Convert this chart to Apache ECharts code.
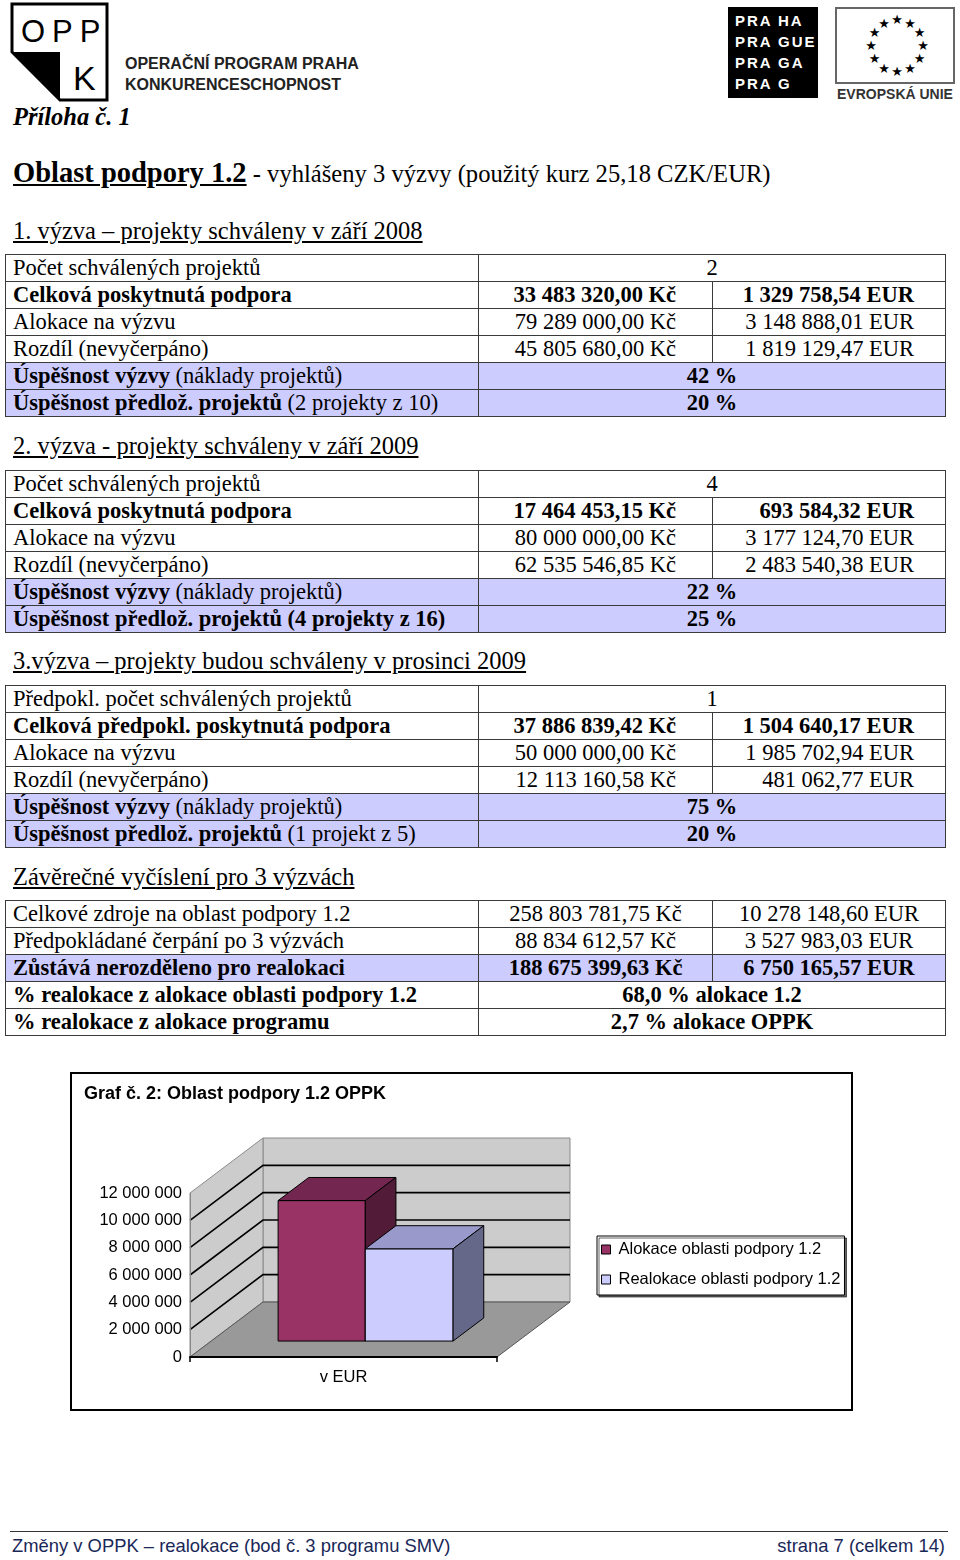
<!DOCTYPE html>
<html lang="cs">
<head>
<meta charset="utf-8">
<title>Oblast podpory 1.2</title>
<script src="https://cdn.jsdelivr.net/npm/echarts@6/dist/echarts.min.js"></script>
<style>
  html, body { margin: 0; padding: 0; background: #fff; }
  body { width: 960px; height: 1560px; position: relative; overflow: hidden; font-family: 'Liberation Serif', serif; color: #000; }
  .abs { position: absolute; white-space: nowrap; }
  .h1 { left: 13px; top: 155px; line-height: 36px; font-size: 24.6px; }
  .h1 b { font-size: 28.5px; text-decoration: underline; }
  .h2 { left: 13px; font-size: 24.5px; line-height: 30px; text-decoration: underline; }
  table.t { position: absolute; left: 5px; width: 940px; border-collapse: collapse; table-layout: fixed; font-size: 22.5px; }
  table.t td { border: 1.5px solid #3a3a3a; height: 26px; padding: 0; line-height: 24px; white-space: nowrap; overflow: hidden; }
  table.t td.l { padding-left: 7px; }
  table.t td.c { text-align: center; }
  table.t td.r1 { text-align: right; padding-right: 36px; }
  table.t td.r2 { text-align: right; padding-right: 31px; }
  table.t tr.b td { font-weight: bold; }
  table.t tr.s td { background: #ccccff; }
  #chart { position: absolute; left: 0; top: 1060px; width: 960px; height: 370px; }
  .foot { font-family: 'Liberation Sans', sans-serif; font-size: 18.4px; color: #1a2858; top: 1535px; line-height: 22px; }
</style>
</head>
<body>
<!-- OPPK logo -->
<svg class="abs" style="left:0;top:0" width="700" height="140">
  <polygon points="12,4 107,4 107,100 60,100 12,52" fill="none" stroke="#000" stroke-width="3"/>
  <polygon points="12,52 60,52 60,100" fill="#000"/>
  <text x="21" y="42" font-family="Liberation Sans" font-size="31" letter-spacing="7">OPP</text>
  <text x="73" y="90" font-family="Liberation Sans" font-size="34">K</text>
  <text x="125" y="69" font-family="Liberation Sans" font-weight="bold" font-size="16" fill="#222">OPERAČNÍ PROGRAM PRAHA</text>
  <text x="125" y="90" font-family="Liberation Sans" font-weight="bold" font-size="16" fill="#222">KONKURENCESCHOPNOST</text>
  <text x="13" y="125" font-family="Liberation Serif" font-weight="bold" font-style="italic" font-size="24.5">Příloha č. 1</text>
</svg>
<!-- Praha logo + EU flag -->
<svg class="abs" style="left:720px;top:0" width="240" height="110">
  <rect x="8" y="7" width="90" height="91" fill="#000"/>
  <g font-family="Liberation Sans" font-weight="bold" font-size="15" fill="#fff" letter-spacing="2">
    <text x="15" y="26">PRA</text><text x="58" y="26">HA</text>
    <text x="15" y="47">PRA</text><text x="58" y="47">GUE</text>
    <text x="15" y="68">PRA</text><text x="58" y="68">GA</text>
    <text x="15" y="89">PRA</text><text x="58" y="89">G</text>
  </g>
  <rect x="116" y="8" width="118" height="75" fill="#fff" stroke="#666" stroke-width="2"/>
  <g id="stars" font-family="DejaVu Sans" font-size="13" fill="#000" text-anchor="middle"></g>
  <text x="175" y="99" font-family="Liberation Sans" font-weight="bold" font-size="14" fill="#333" text-anchor="middle">EVROPSKÁ UNIE</text>
</svg>

<div class="abs h1"><b>Oblast podpory 1.2</b> - vyhlášeny 3 výzvy (použitý kurz 25,18 CZK/EUR)</div>

<div class="abs h2" style="top:216px">1. výzva – projekty schváleny v září 2008</div>
<table class="t" style="top:254px">
  <colgroup><col style="width:473px"><col style="width:234px"><col style="width:233px"></colgroup>
  <tr><td class="l">Počet schválených projektů</td><td class="c" colspan="2">2</td></tr>
  <tr class="b"><td class="l">Celková poskytnutá podpora</td><td class="r1">33 483 320,00 Kč</td><td class="r2">1 329 758,54 EUR</td></tr>
  <tr><td class="l">Alokace na výzvu</td><td class="r1">79 289 000,00 Kč</td><td class="r2">3 148 888,01 EUR</td></tr>
  <tr><td class="l">Rozdíl (nevyčerpáno)</td><td class="r1">45 805 680,00 Kč</td><td class="r2">1 819 129,47 EUR</td></tr>
  <tr class="s"><td class="l"><b>Úspěšnost výzvy</b> (náklady projektů)</td><td class="c" colspan="2"><b>42 %</b></td></tr>
  <tr class="s"><td class="l"><b>Úspěšnost předlož. projektů</b> (2 projekty z 10)</td><td class="c" colspan="2"><b>20 %</b></td></tr>
</table>

<div class="abs h2" style="top:431px">2. výzva - projekty schváleny v září 2009</div>
<table class="t" style="top:470px">
  <colgroup><col style="width:473px"><col style="width:234px"><col style="width:233px"></colgroup>
  <tr><td class="l">Počet schválených projektů</td><td class="c" colspan="2">4</td></tr>
  <tr class="b"><td class="l">Celková poskytnutá podpora</td><td class="r1">17 464 453,15 Kč</td><td class="r2">693 584,32 EUR</td></tr>
  <tr><td class="l">Alokace na výzvu</td><td class="r1">80 000 000,00 Kč</td><td class="r2">3 177 124,70 EUR</td></tr>
  <tr><td class="l">Rozdíl (nevyčerpáno)</td><td class="r1">62 535 546,85 Kč</td><td class="r2">2 483 540,38 EUR</td></tr>
  <tr class="s"><td class="l"><b>Úspěšnost výzvy</b> (náklady projektů)</td><td class="c" colspan="2"><b>22 %</b></td></tr>
  <tr class="s b"><td class="l">Úspěšnost předlož. projektů (4 projekty z 16)</td><td class="c" colspan="2">25 %</td></tr>
</table>

<div class="abs h2" style="top:646px">3.výzva – projekty budou schváleny v prosinci 2009</div>
<table class="t" style="top:685px">
  <colgroup><col style="width:473px"><col style="width:234px"><col style="width:233px"></colgroup>
  <tr><td class="l">Předpokl. počet schválených projektů</td><td class="c" colspan="2">1</td></tr>
  <tr class="b"><td class="l">Celková předpokl. poskytnutá podpora</td><td class="r1">37 886 839,42 Kč</td><td class="r2">1 504 640,17 EUR</td></tr>
  <tr><td class="l">Alokace na výzvu</td><td class="r1">50 000 000,00 Kč</td><td class="r2">1 985 702,94 EUR</td></tr>
  <tr><td class="l">Rozdíl (nevyčerpáno)</td><td class="r1">12 113 160,58 Kč</td><td class="r2">481 062,77 EUR</td></tr>
  <tr class="s"><td class="l"><b>Úspěšnost výzvy</b> (náklady projektů)</td><td class="c" colspan="2"><b>75 %</b></td></tr>
  <tr class="s"><td class="l"><b>Úspěšnost předlož. projektů</b> (1 projekt z 5)</td><td class="c" colspan="2"><b>20 %</b></td></tr>
</table>

<div class="abs h2" style="top:862px">Závěrečné vyčíslení pro 3 výzvách</div>
<table class="t" style="top:900px">
  <colgroup><col style="width:473px"><col style="width:234px"><col style="width:233px"></colgroup>
  <tr><td class="l">Celkové zdroje na oblast podpory 1.2</td><td class="c">258 803 781,75 Kč</td><td class="c">10 278 148,60 EUR</td></tr>
  <tr><td class="l">Předpokládané čerpání po 3 výzvách</td><td class="c">88 834 612,57 Kč</td><td class="c">3 527 983,03 EUR</td></tr>
  <tr class="s b"><td class="l">Zůstává nerozděleno pro realokaci</td><td class="c">188 675 399,63 Kč</td><td class="c">6 750 165,57 EUR</td></tr>
  <tr class="b"><td class="l">% realokace z alokace oblasti podpory 1.2</td><td class="c" colspan="2">68,0 % alokace 1.2</td></tr>
  <tr class="b"><td class="l">% realokace z alokace programu</td><td class="c" colspan="2">2,7 % alokace OPPK</td></tr>
</table>

<div id="chart"></div>

<div class="abs" style="left:10px;top:1531px;width:938px;height:0;border-top:1.5px solid #333"></div>
<div class="abs foot" style="left:12px">Změny v OPPK – realokace (bod č. 3 programu SMV)</div>
<div class="abs foot" style="right:15px">strana 7 (celkem 14)</div>

<script>
// ---- chart data ----
const categories = ['v EUR'];
const seriesNames = ['Alokace oblasti podpory 1.2', 'Realokace oblasti podpory 1.2'];
const alokace = [10278148.60];
const realokace = [6750165.57];
const yTickValues = [0, 2000000, 4000000, 6000000, 8000000, 10000000, 12000000];
const yTickLabels = ['0', '2 000 000', '4 000 000', '6 000 000', '8 000 000', '10 000 000', '12 000 000'];

// ---- EU stars ----
(function () {
  const g = document.getElementById('stars');
  const cx = 177, cy = 50, r = 26;
  let html = '';
  for (let i = 0; i < 12; i++) {
    const a = i * Math.PI / 6;
    html += '<text x="' + (cx + r * Math.sin(a)).toFixed(1) + '" y="' + (cy - r * Math.cos(a)).toFixed(1) + '">★</text>';
  }
  g.innerHTML = html;
})();

// ---- 3D look styles ----
const DX = 73, DY = 55;
const BAR_F0 = 0.29, BAR_FD = 0.42;
const WALL = '#cccccc', FLOOR = '#999999', EDGE = '#8a8a8a';
const yMin = yTickValues[0], yMax = yTickValues[yTickValues.length - 1];

function frameBox(api) {
  const p0 = api.coord([0, yMin]);
  const p1 = api.coord([0, yMax]);
  const bw = api.size([1, 0])[0];
  return { x0: p0[0] - bw / 2, x1: p0[0] + bw / 2, yb: p0[1], yt: p1[1], bw: bw };
}

function renderWalls(params, api) {
  const b = frameBox(api);
  return {
    type: 'group',
    children: [
      { type: 'polygon', shape: { points: [[b.x0 + DX, b.yb - DY], [b.x1 + DX, b.yb - DY], [b.x1 + DX, b.yt - DY], [b.x0 + DX, b.yt - DY]] },
        style: { fill: WALL, stroke: EDGE, lineWidth: 1 } },
      { type: 'polygon', shape: { points: [[b.x0, b.yb], [b.x0 + DX, b.yb - DY], [b.x0 + DX, b.yt - DY], [b.x0, b.yt]] },
        style: { fill: WALL, stroke: EDGE, lineWidth: 1 } },
      { type: 'polygon', shape: { points: [[b.x0, b.yb], [b.x1, b.yb], [b.x1 + DX, b.yb - DY], [b.x0 + DX, b.yb - DY]] },
        style: { fill: FLOOR, stroke: '#555', lineWidth: 1 } }
    ]
  };
}

function renderGridLine(params, api) {
  const v = api.value(1);
  if (v === yMin || v === yMax) return null;
  const b = frameBox(api);
  const y = api.coord([0, v])[1];
  return {
    type: 'polyline',
    shape: { points: [[b.x0, y], [b.x0 + DX, y - DY], [b.x1 + DX, y - DY]] },
    style: { stroke: '#000', lineWidth: 1.6, fill: null }
  };
}

function makeBarRenderer(a, bfrac, front, top, side) {
  return function (params, api) {
    const v = api.value(1);
    const b = frameBox(api);
    const ox = BAR_F0 * DX, oy = BAR_F0 * DY;
    const ddx = BAR_FD * DX, ddy = BAR_FD * DY;
    const xl = b.x0 + a * b.bw + ox, xr = b.x0 + bfrac * b.bw + ox;
    const yb = b.yb - oy, yt = api.coord([0, v])[1] - oy;
    const st = { stroke: '#000', lineWidth: 1 };
    return {
      type: 'group',
      children: [
        { type: 'polygon', shape: { points: [[xl, yb], [xr, yb], [xr, yt], [xl, yt]] }, style: Object.assign({ fill: front }, st) },
        { type: 'polygon', shape: { points: [[xl, yt], [xr, yt], [xr + ddx, yt - ddy], [xl + ddx, yt - ddy]] }, style: Object.assign({ fill: top }, st) },
        { type: 'polygon', shape: { points: [[xr, yt], [xr + ddx, yt - ddy], [xr + ddx, yb - ddy], [xr, yb]] }, style: Object.assign({ fill: side }, st) }
      ]
    };
  };
}

const chart = echarts.init(document.getElementById('chart'), null, { renderer: 'canvas' });
const font = 'Liberation Sans';
chart.setOption({
  animation: false,
  title: {
    text: 'Graf č. 2: Oblast podpory 1.2 OPPK',
    left: 84, top: 25, padding: 0,
    textStyle: { fontFamily: font, fontWeight: 'bold', fontSize: 18, color: '#000' }
  },
  legend: {
    data: seriesNames,
    orient: 'vertical',
    left: 597, top: 176,
    icon: 'rect', itemWidth: 9, itemHeight: 9, itemGap: 11,
    padding: [4, 4, 6, 4],
    borderColor: '#000', borderWidth: 1,
    backgroundColor: '#fff',
    shadowColor: 'rgba(0,0,0,0.6)', shadowOffsetX: 2, shadowOffsetY: 2, shadowBlur: 0,
    itemStyle: { borderColor: '#000', borderWidth: 1 },
    textStyle: { fontFamily: font, fontSize: 16.5, color: '#000', lineHeight: 19, padding: [0, 0, 0, 3] },
    selectedMode: false
  },
  grid: { left: 190, top: 133, width: 307, height: 164 },
  xAxis: {
    type: 'category', data: categories, boundaryGap: true, z: 5,
    axisLine: { lineStyle: { color: '#000', width: 2 } },
    axisTick: { show: true, length: 5, lineStyle: { color: '#000', width: 1.5 } },
    axisLabel: { fontFamily: font, fontSize: 16.5, color: '#000', margin: 12 }
  },
  yAxis: {
    type: 'value', min: yMin, max: yMax, interval: 2000000, z: 5,
    splitLine: { show: false },
    axisLine: { show: true, lineStyle: { color: '#888', width: 1 } },
    axisTick: { show: false },
    axisLabel: {
      fontFamily: font, fontSize: 16.5, color: '#000', margin: 8,
      formatter: function (v) { const i = yTickValues.indexOf(v); return i >= 0 ? yTickLabels[i] : ''; }
    }
  },
  graphic: [
    { type: 'rect', shape: { x: 71, y: 13, width: 781, height: 337 }, style: { fill: 'none', stroke: '#000', lineWidth: 2 }, z: 0 }
  ],
  series: [
    { type: 'custom', name: 'walls', z: 1, silent: true, data: [[0, 0]], encode: { x: 0, y: 1 }, renderItem: renderWalls },
    { type: 'custom', name: 'grid', z: 1, silent: true, data: yTickValues.map(v => [0, v]), encode: { x: 0, y: 1 }, renderItem: renderGridLine },
    { type: 'custom', name: seriesNames[0], z: 2, itemStyle: { color: '#993366' },
      data: alokace.map((v, i) => [i, v]), encode: { x: 0, y: 1 },
      renderItem: makeBarRenderer(0.218, 0.502, '#993366', '#732650', '#521b38') },
    { type: 'custom', name: seriesNames[1], z: 3, itemStyle: { color: '#ccccff' },
      data: realokace.map((v, i) => [i, v]), encode: { x: 0, y: 1 },
      renderItem: makeBarRenderer(0.502, 0.788, '#ccccff', '#9999cc', '#66688a') }
  ]
});
</script>
</body>
</html>
